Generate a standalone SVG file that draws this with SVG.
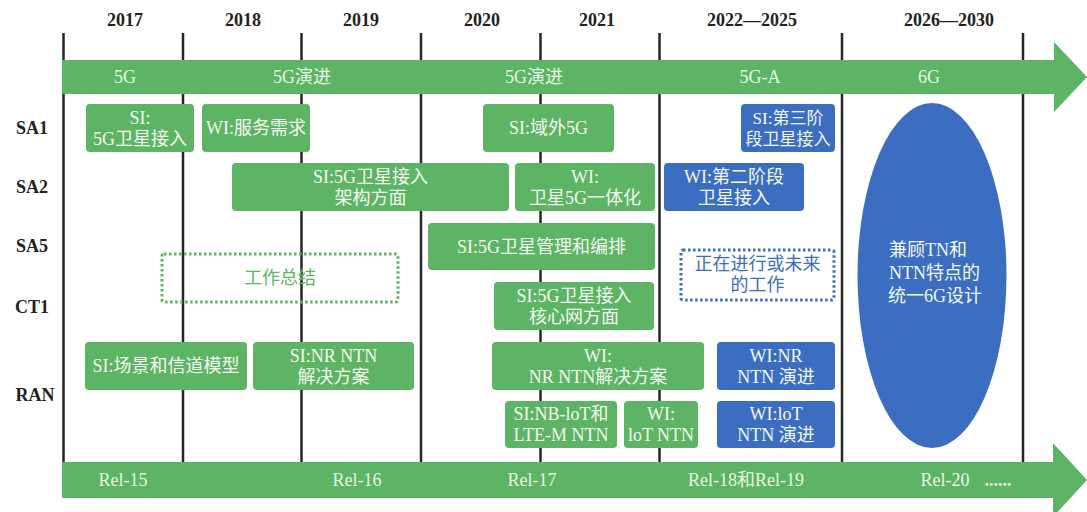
<svg xmlns="http://www.w3.org/2000/svg" width="1087" height="512" viewBox="0 0 1087 512">
<style>
.yr{font-family:"Liberation Serif","Noto Sans CJK SC",serif;font-weight:bold;font-size:18px;fill:#222;text-anchor:middle}
.lbl{font-family:"Liberation Serif","Noto Sans CJK SC",serif;font-weight:bold;font-size:18px;fill:#222;text-anchor:middle}
.grid{stroke:#262626;stroke-width:2.5}
.band{fill:#5cb464}
.bt{font-family:"Liberation Serif","Noto Sans CJK SC",serif;font-size:18px;fill:#e8f5e4;text-anchor:middle}
.g{fill:#5cb464}
.b{fill:#3b6ec0}
.t{font-family:"Liberation Serif","Noto Sans CJK SC",serif;font-size:18px;fill:#f3f9f1;text-anchor:middle}
.ts{font-size:17px}
.dg{fill:none;stroke:#5cb464;stroke-width:3;stroke-dasharray:2.5 2.5}
.db{fill:none;stroke:#3b6ec0;stroke-width:3;stroke-dasharray:2.5 2.5}
.tg{font-family:"Liberation Serif","Noto Sans CJK SC",serif;font-size:18px;fill:#5cb464;text-anchor:middle}
.tb{font-family:"Liberation Serif","Noto Sans CJK SC",serif;font-size:18px;fill:#3b6ec0;text-anchor:middle}
</style>
<rect width="1087" height="512" fill="#fff"/>
<g id="years">
<text class="yr" x="125" y="26">2017</text>
<text class="yr" x="243" y="26">2018</text>
<text class="yr" x="361" y="26">2019</text>
<text class="yr" x="482" y="26">2020</text>
<text class="yr" x="597" y="26">2021</text>
<text class="yr" x="752" y="26">2022—2025</text>
<text class="yr" x="949" y="26">2026—2030</text>
</g>
<g id="row-labels">
<text class="lbl" x="32" y="134">SA1</text>
<text class="lbl" x="32" y="193">SA2</text>
<text class="lbl" x="32" y="252">SA5</text>
<text class="lbl" x="32" y="313">CT1</text>
<text class="lbl" x="35" y="401">RAN</text>
</g>
<g id="connectors">
<line class="grid" x1="63.5" y1="33" x2="63.5" y2="463"/>
<line class="grid" x1="183" y1="33" x2="183" y2="463"/>
<line class="grid" x1="301.5" y1="33" x2="301.5" y2="463"/>
<line class="grid" x1="421" y1="33" x2="421" y2="463"/>
<line class="grid" x1="540.5" y1="33" x2="540.5" y2="463"/>
<line class="grid" x1="659.5" y1="33" x2="659.5" y2="463"/>
<line class="grid" x1="842" y1="33" x2="842" y2="463"/>
<line class="grid" x1="1023" y1="33" x2="1023" y2="463"/>
</g>
<g id="top-band">
<polygon class="band" points="62,60 1054,60 1054,42 1087,77 1054,112 1054,94 62,94"/>
<text class="bt" x="125" y="83">5G</text>
<text class="bt" x="302" y="83">5G演进</text>
<text class="bt" x="534" y="83">5G演进</text>
<text class="bt" x="760" y="83">5G-A</text>
<text class="bt" x="929" y="83">6G</text>
</g>
<g id="bottom-band">
<polygon class="band" points="62,462 1053,462 1053,443 1087,480 1053,517 1053,498 62,498"/>
<text class="bt" x="123" y="486">Rel-15</text>
<text class="bt" x="357" y="486">Rel-16</text>
<text class="bt" x="532" y="486">Rel-17</text>
<text class="bt" x="746" y="486">Rel-18和Rel-19</text>
<text class="bt" x="945" y="486">Rel-20</text>
<text class="bt" x="998" y="486" font-weight="bold">......</text>
</g>
<g id="sa1-si-5g">
<rect class="g" x="86" y="104" width="108" height="48" rx="4"/>
<text class="t" x="140" y="123.5">SI:</text>
<text class="t" x="140" y="144.5">5G卫星接入</text>
</g>
<g id="sa1-wi-service">
<rect class="g" x="202" y="104" width="108" height="48" rx="4"/>
<text class="t" x="256" y="134">WI:服务需求</text>
</g>
<g id="sa1-si-out5g">
<rect class="g" x="483" y="104" width="131" height="48" rx="4"/>
<text class="t" x="548.5" y="134">SI:域外5G</text>
</g>
<g id="sa1-si-phase3">
<rect class="b" x="741" y="104" width="94" height="48" rx="4"/>
<text class="t ts" x="788" y="123.5">SI:第三阶</text>
<text class="t ts" x="788" y="144.5">段卫星接入</text>
</g>
<g id="sa2-si-arch">
<rect class="g" x="232" y="163" width="277" height="48" rx="4"/>
<text class="t" x="370.5" y="182.5">SI:5G卫星接入</text>
<text class="t" x="370.5" y="203.5">架构方面</text>
</g>
<g id="sa2-wi-integration">
<rect class="g" x="515" y="163" width="140" height="48" rx="4"/>
<text class="t" x="585" y="182.5">WI:</text>
<text class="t" x="585" y="203.5">卫星5G一体化</text>
</g>
<g id="sa2-wi-phase2">
<rect class="b" x="664" y="163" width="140" height="48" rx="4"/>
<text class="t" x="734" y="182.5">WI:第二阶段</text>
<text class="t" x="734" y="203.5">卫星接入</text>
</g>
<g id="sa5-si-mgmt">
<rect class="g" x="428" y="223" width="227" height="47" rx="4"/>
<text class="t" x="541.5" y="252.5">SI:5G卫星管理和编排</text>
</g>
<g id="legend-done">
<rect class="dg" x="162" y="254" width="236" height="48" rx="2"/>
<text class="tg" x="280" y="284">工作总结</text>
</g>
<g id="legend-future">
<rect class="db" x="681" y="250" width="153" height="50" rx="2"/>
<text class="tb" x="757.5" y="270">正在进行或未来</text>
<text class="tb" x="757.5" y="291">的工作</text>
</g>
<g id="ct1-si-core">
<rect class="g" x="494" y="282" width="160" height="48" rx="4"/>
<text class="t" x="574" y="301.5">SI:5G卫星接入</text>
<text class="t" x="574" y="322.5">核心网方面</text>
</g>
<g id="ran-si-scenario">
<rect class="g" x="85" y="342" width="162" height="48" rx="4"/>
<text class="t" x="166" y="372">SI:场景和信道模型</text>
</g>
<g id="ran-si-nrntn">
<rect class="g" x="253" y="342" width="161" height="48" rx="4"/>
<text class="t" x="333.5" y="361.5">SI:NR NTN</text>
<text class="t" x="333.5" y="382.5">解决方案</text>
</g>
<g id="ran-wi-nrntn">
<rect class="g" x="492" y="342" width="212" height="48" rx="4"/>
<text class="t" x="598" y="361.5">WI:</text>
<text class="t" x="598" y="382.5">NR NTN解决方案</text>
</g>
<g id="ran-wi-nrntn-evo">
<rect class="b" x="717" y="342" width="118" height="48" rx="4"/>
<text class="t" x="776" y="361.5">WI:NR</text>
<text class="t" x="776" y="382.5">NTN 演进</text>
</g>
<g id="ran-si-nbiot">
<rect class="g" x="505" y="401" width="112" height="47" rx="4"/>
<text class="t" x="561" y="420">SI:NB-loT和</text>
<text class="t" x="561" y="441">LTE-M NTN</text>
</g>
<g id="ran-wi-iot">
<rect class="g" x="624" y="401" width="74" height="47" rx="4"/>
<text class="t" x="661" y="420">WI:</text>
<text class="t" x="661" y="441">loT NTN</text>
</g>
<g id="ran-wi-iot-evo">
<rect class="b" x="717" y="401" width="118" height="47" rx="4"/>
<text class="t" x="776" y="420">WI:loT</text>
<text class="t" x="776" y="441">NTN 演进</text>
</g>
<g id="6g-ellipse">
<ellipse class="b" cx="932" cy="275.5" rx="74.5" ry="172.5"/>
<text class="t" x="889" y="256" style="text-anchor:start">兼顾TN和</text>
<text class="t" x="889" y="279" style="text-anchor:start">NTN特点的</text>
<text class="t" x="888" y="302" style="text-anchor:start">统一6G设计</text>
</g>
</svg>
